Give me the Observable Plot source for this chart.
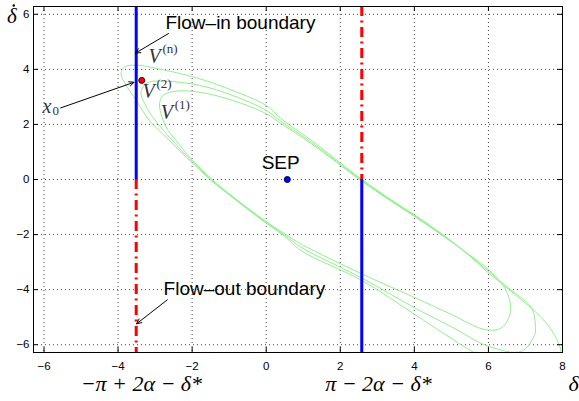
<!DOCTYPE html>
<html><head><meta charset="utf-8">
<script src="https://cdn.jsdelivr.net/npm/d3@7"></script>
<script src="https://cdn.jsdelivr.net/npm/@observablehq/plot@0.6"></script>
<style>body{margin:0;background:#fff}</style>
</head><body><div id="chart"></div>
<script>
const xTicks = [-6, -4, -2, 0, 2, 4, 6, 8];
const yTicks = [-6, -4, -2, 0, 2, 4, 6];
const flowLeftX = -3.51;   // -π + 2α - δ*
const flowRightX = 2.58;   //  π - 2α - δ*
const sep = [[0.57, 0]];
const x0 = [[-3.36, 3.60]];

// trajectories V(1), V(2), V(n) (closed loops)
const v1 = [[-2.43,3.21],[-1.80,3.17],[-0.90,2.87],[0,2.39],[0.41,2.02],[1.22,1.30],[2.57,-0.05],[3.38,-0.80],[4.01,-1.35],[4.73,-2.01],[5.45,-2.70],[5.99,-3.26],[6.44,-3.93],[6.60,-4.78],[6.35,-5.39],[5.90,-5.45],[5.00,-4.90],[4.01,-4.29],[2.57,-3.42],[0.95,-2.35],[0.50,-1.97],[-0.05,-1.48],[-0.95,-0.57],[-1.49,0.04],[-1.98,0.68],[-2.43,1.41],[-2.70,1.90],[-2.84,2.39],[-2.88,2.75],[-2.79,3.05]];
const v2 = [[-3.15,3.54],[-2.70,3.57],[-1.80,3.42],[-0.90,3.05],[0,2.51],[0.41,2.10],[1.22,1.35],[2.57,-0.02],[3.38,-0.77],[4.01,-1.32],[4.73,-1.99],[5.45,-2.71],[5.99,-3.32],[6.53,-3.93],[7.16,-4.66],[7.27,-5.37],[7.25,-5.63],[6.89,-6.24],[5.99,-6.05],[5.00,-5.35],[4.01,-4.66],[2.57,-3.57],[0.95,-2.47],[0.50,-2.02],[-0.05,-1.51],[-0.95,-0.59],[-1.49,0.00],[-2.07,0.75],[-2.61,1.53],[-3.06,2.26],[-3.28,2.75],[-3.38,3.11],[-3.33,3.36]];
const vn = [[-3.51,4.15],[-2.70,3.96],[-1.80,3.66],[-0.90,3.23],[0,2.69],[0.41,2.20],[1.22,1.42],[2.57,0.02],[3.38,-0.74],[4.01,-1.29],[4.73,-1.96],[5.45,-2.73],[5.99,-3.38],[6.71,-4.17],[7.43,-5.02],[7.77,-5.61],[7.97,-6.30],[7.90,-7.10],[6.90,-7.20],[5.63,-6.30],[4.79,-5.59],[4.01,-4.90],[2.57,-3.66],[0.95,-2.59],[0.50,-2.07],[-0.05,-1.54],[-0.95,-0.61],[-1.49,-0.03],[-2.16,0.81],[-2.70,1.53],[-3.15,2.14],[-3.51,2.87],[-3.78,3.42],[-3.92,3.84],[-3.83,4.08]];

const TWO_PI = 2 * Math.PI;
const blueSegs = [{x: flowLeftX, y1: 0, y2: TWO_PI}, {x: flowRightX, y1: -TWO_PI, y2: 0}];
const redSegs = [{x: flowLeftX, y1: 0, y2: -TWO_PI}, {x: flowRightX, y1: TWO_PI, y2: 0}];

const boundaryLabels = [
  {x: -2.72, y: 5.68, text: "Flow–in boundary"},
  {x: -2.77, y: -3.98, text: "Flow–out boundary"}
];
const sepLabel = [{x: 0.39, y: 0.62, text: "SEP"}];
const vLabels = [
  {x: -3.18, y: 4.45, text: "V", sup: "(n)"},
  {x: -3.34, y: 3.18, text: "V", sup: "(2)"},
  {x: -2.85, y: 2.42, text: "V", sup: "(1)"}
];
const arrows = [
  {x1: -2.64, y1: 5.30, x2: -3.53, y2: 4.59},
  {x1: -2.67, y1: -4.37, x2: -3.50, y2: -5.24},
  {x1: -5.55, y1: 2.60, x2: -3.57, y2: 3.53}
];
const axisLabels = [
  {x: -3.37, y: -7.42, text: "−π + 2α − δ*"},
  {x: 3.03, y: -7.42, text: "π − 2α − δ*"},
  {x: 8.30, y: -7.42, text: "δ"}
];
const yLabelPos = [[-6.87, 5.92]];

const fmt = d => d < 0 ? "−" + (-d) : String(d);
const green = "#92ee8e";
const serif = "Liberation Serif, Times New Roman, serif";

const chart = Plot.plot({
  width: 579, height: 401,
  marginLeft: 33, marginRight: 17, marginTop: 6, marginBottom: 49,
  x: {domain: [-TWO_PI, 8], axis: null},
  y: {domain: [-TWO_PI, TWO_PI], axis: null},
  style: {fontFamily: "Liberation Sans, Arial, sans-serif", fontSize: "11.5px", background: "#fff", color: "#000", overflow: "visible"},
  marks: [
    Plot.gridX(xTicks, {stroke: "#333", strokeOpacity: 0.9, strokeDasharray: "1,3"}),
    Plot.gridY(yTicks, {stroke: "#333", strokeOpacity: 0.9, strokeDasharray: "1,3"}),
    Plot.line(v1, {x: d => d[0], y: d => d[1], curve: "catmull-rom-closed", stroke: green, strokeWidth: 1, clip: true}),
    Plot.line(v2, {x: d => d[0], y: d => d[1], curve: "catmull-rom-closed", stroke: green, strokeWidth: 1, clip: true}),
    Plot.line(vn, {x: d => d[0], y: d => d[1], curve: "catmull-rom-closed", stroke: green, strokeWidth: 1, clip: true}),
    Plot.ruleX(blueSegs, {x: "x", y1: "y1", y2: "y2", stroke: "#0000ff", strokeWidth: 3}),
    Plot.ruleX(redSegs, {x: "x", y1: "y1", y2: "y2", stroke: "#ff0000", strokeWidth: 3, strokeDasharray: "10,4.5,2,4.5"}),
    Plot.tickX(xTicks, {x: d => d, insetTop: 341, stroke: "#000"}),
    Plot.tickX(xTicks, {x: d => d, insetBottom: 341, stroke: "#000"}),
    Plot.tickY(yTicks, {y: d => d, insetRight: 524, stroke: "#000"}),
    Plot.tickY(yTicks, {y: d => d, insetLeft: 524, stroke: "#000"}),
    Plot.frame({stroke: "#000"}),
    Plot.axisX(xTicks, {anchor: "bottom", tickSize: 0, tickPadding: 9, tickFormat: fmt, label: null}),
    Plot.axisY(yTicks, {anchor: "left", tickSize: 0, tickPadding: 4, tickFormat: fmt, label: null}),
    Plot.arrow(arrows, {x1: "x1", y1: "y1", x2: "x2", y2: "y2", stroke: "#000", strokeWidth: 1, headLength: 8, headAngle: 50}),
    Plot.dot(sep, {x: d => d[0], y: d => d[1], r: 3, fill: "#0000ff", stroke: "#000033", strokeWidth: 1}),
    Plot.dot(x0, {x: d => d[0], y: d => d[1], r: 3, fill: "#ff0000", stroke: "#330000", strokeWidth: 1}),
    Plot.text(boundaryLabels, {x: "x", y: "y", text: "text", textAnchor: "start", fontSize: 19, fill: "#000"}),
    Plot.text(sepLabel, {x: "x", y: "y", text: "text", textAnchor: "middle", fontSize: 19, fill: "#000"}),
    Plot.text(vLabels, {x: "x", y: "y", text: "text", textAnchor: "start", fontSize: 20, fontStyle: "italic", fontFamily: serif, fill: "#333"}),
    Plot.text(vLabels, {x: "x", y: "y", text: "sup", textAnchor: "start", dx: 14, dy: -8, fontSize: 13, fontFamily: serif, fill: "#333"}),
    Plot.text([[-6.04, 2.63]], {x: d => d[0], y: d => d[1], text: ["x"], textAnchor: "start", fontSize: 20, fontStyle: "italic", fontFamily: serif, fill: "#333"}),
    Plot.text([[-6.04, 2.63]], {x: d => d[0], y: d => d[1], text: ["0"], textAnchor: "start", dx: 10, dy: 4, fontSize: 13, fontFamily: serif, fill: "#333"}),
    Plot.text(axisLabels, {x: "x", y: "y", text: "text", fontSize: 22, fontStyle: "italic", fontFamily: serif, fill: "#000"}),
    Plot.text(yLabelPos, {x: d => d[0], y: d => d[1], text: ["δ"], fontSize: 21, fontStyle: "italic", fontFamily: serif, fill: "#000"}),
    Plot.dot(yLabelPos, {x: d => d[0], y: d => d[1], dx: 2, dy: -11, r: 1.2, fill: "#000", stroke: "none"})
  ]
});
document.getElementById("chart").appendChild(chart);
</script>
</body></html>
